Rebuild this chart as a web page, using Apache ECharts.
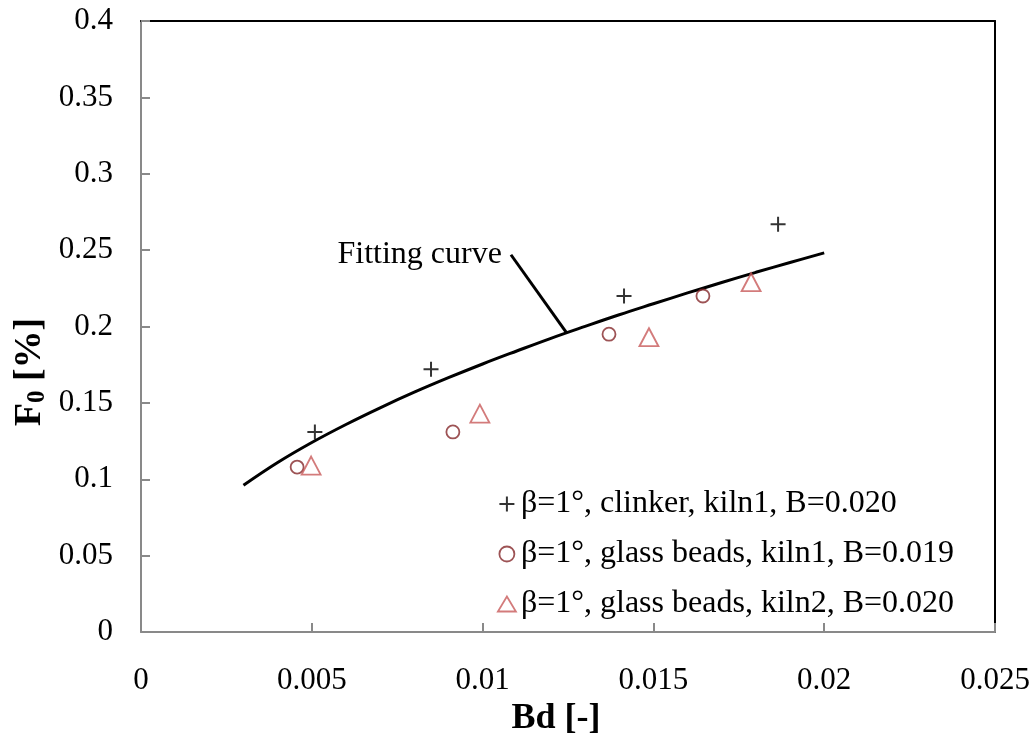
<!DOCTYPE html>
<html>
<head>
<meta charset="utf-8">
<script src="https://cdn.jsdelivr.net/npm/echarts@6/dist/echarts.min.js"></script>
<style>
  html, body { margin: 0; padding: 0; background: #fff; }
  #chart { width: 1036px; height: 742px; }
</style>
</head>
<body>
<div id="chart"></div>
<script>
// Measured points: beta = 1 deg, three material / kiln combinations
const clinkerBd = [0.00509, 0.00849, 0.01414, 0.01865];
const clinkerF0 = [0.131, 0.172, 0.220, 0.267];

const beads1Bd = [0.00457, 0.00913, 0.01370, 0.01645];
const beads1F0 = [0.108, 0.131, 0.195, 0.220];

const beads2Bd = [0.00498, 0.00992, 0.01487, 0.01786];
const beads2F0 = [0.109, 0.143, 0.193, 0.229];

// Fitting curve samples
const curveBd = [0.003, 0.004, 0.005, 0.006, 0.007, 0.008, 0.009, 0.010, 0.011,
                 0.012, 0.013, 0.014, 0.015, 0.016, 0.017, 0.018, 0.019, 0.020];
const curveF0 = [0.0961, 0.1110, 0.1241, 0.1359, 0.1468, 0.1570, 0.1665, 0.1755, 0.1840,
                 0.1923, 0.2001, 0.2077, 0.2149, 0.2220, 0.2288, 0.2355, 0.2419, 0.2482];

// Leader line from the "Fitting curve" annotation to the curve
const leaderBd = [0.01083, 0.01246];
const leaderF0 = [0.247, 0.1958];

const seriesNames = [
  'β=1°, clinker, kiln1, B=0.020',
  'β=1°, glass beads, kiln1, B=0.019',
  'β=1°, glass beads, kiln2, B=0.020'
];

const FONT = '"Liberation Serif", "Times New Roman", serif';
const AXIS_GRAY = '#898989';
const C_CIRCLE = '#84282A';
const C_TRI = '#C85A5A';
const PLUS = 'path://M0,7H14M7,0V14';

const zip = (xs, ys) => xs.map((x, i) => [x, ys[i]]);

const chart = echarts.init(document.getElementById('chart'), null, { renderer: 'canvas' });

chart.setOption({
  backgroundColor: '#fff',
  animation: false,
  grid: { left: 141, right: 41, top: 21, bottom: 104, containLabel: false },
  xAxis: [
    {
      type: 'value', min: 0, max: 0.025, interval: 0.005,
      name: 'Bd [-]', nameLocation: 'middle', nameGap: 62,
      nameTextStyle: { fontFamily: FONT, fontSize: 36, fontWeight: 'bold', color: '#000', padding: [0, 24, 0, 0] },
      axisLine: { show: true, onZero: false, lineStyle: { color: AXIS_GRAY, width: 2 } },
      axisTick: { show: true, inside: true, length: 9, lineStyle: { color: AXIS_GRAY, width: 2 } },
      axisLabel: { fontFamily: FONT, fontSize: 31, color: '#000', margin: 33,
                   formatter: v => String(+v.toFixed(3)) },
      splitLine: { show: false }
    },
    {
      type: 'value', position: 'top', min: 0, max: 0.025,
      axisLine: { show: true, onZero: false, lineStyle: { color: '#000', width: 2 } },
      axisTick: { show: false }, axisLabel: { show: false }, splitLine: { show: false }
    }
  ],
  yAxis: [
    {
      type: 'value', min: 0, max: 0.4, interval: 0.05,
      axisLine: { show: true, onZero: false, lineStyle: { color: AXIS_GRAY, width: 2 } },
      axisTick: { show: true, inside: true, length: 9, lineStyle: { color: AXIS_GRAY, width: 2 } },
      axisLabel: { fontFamily: FONT, fontSize: 31, color: '#000', margin: 28,
                   formatter: v => String(+v.toFixed(2)) },
      splitLine: { show: false }
    },
    {
      type: 'value', position: 'right', min: 0, max: 0.4,
      axisLine: { show: true, onZero: false, lineStyle: { color: '#000', width: 2 } },
      axisTick: { show: false }, axisLabel: { show: false }, splitLine: { show: false }
    }
  ],
  legend: {
    orient: 'vertical', left: 492, top: 481,
    itemWidth: 18, itemHeight: 15, itemGap: 14,
    textStyle: { fontFamily: FONT, fontSize: 32, color: '#000', lineHeight: 36 },
    selectedMode: false,
    data: [
      { name: seriesNames[0], icon: PLUS,
        itemStyle: { color: 'rgba(0,0,0,0)', borderColor: '#000', borderWidth: 2 } },
      { name: seriesNames[1], icon: 'circle',
        itemStyle: { color: 'rgba(0,0,0,0)', borderColor: C_CIRCLE, borderWidth: 1.8 } },
      { name: seriesNames[2], icon: 'triangle',
        itemStyle: { color: 'rgba(0,0,0,0)', borderColor: C_TRI, borderWidth: 1.8 } }
    ]
  },
  graphic: [
    {
      type: 'text', x: 30, y: 372, rotation: Math.PI / 2,
      style: {
        text: '{a|F}{s|0}{a| [%]}',
        align: 'center', verticalAlign: 'middle',
        rich: {
          a: { fontFamily: FONT, fontSize: 38, fontWeight: 'bold', fill: '#000', lineHeight: 40, verticalAlign: 'middle' },
          s: { fontFamily: FONT, fontSize: 25, fontWeight: 'bold', fill: '#000', lineHeight: 25, padding: [15, 0, 0, 0], verticalAlign: 'middle' }
        }
      }
    }
  ],
  series: [
    {
      name: 'Fitting curve', type: 'line', smooth: 0.4, showSymbol: false,
      data: zip(curveBd, curveF0),
      lineStyle: { color: '#000', width: 3 }, z: 3
    },
    {
      name: 'leader', type: 'line', showSymbol: true, symbol: 'circle', symbolSize: 0.1,
      itemStyle: { color: 'rgba(0,0,0,0)' },
      lineStyle: { color: '#000', width: 3 }, z: 3,
      data: [
        { value: [leaderBd[0], leaderF0[0]],
          label: { show: true, position: 'left', distance: 9, formatter: 'Fitting curve',
                   fontFamily: FONT, fontSize: 32, color: '#000' } },
        [leaderBd[1], leaderF0[1]]
      ]
    },
    {
      name: seriesNames[0], type: 'scatter', symbol: PLUS, symbolSize: 15,
      itemStyle: { color: 'rgba(0,0,0,0)', borderColor: '#000', borderWidth: 2 },
      data: zip(clinkerBd, clinkerF0), z: 4
    },
    {
      name: seriesNames[1], type: 'scatter', symbol: 'circle', symbolSize: 13,
      itemStyle: { color: 'rgba(0,0,0,0)', borderColor: C_CIRCLE, borderWidth: 1.8 },
      data: zip(beads1Bd, beads1F0), z: 4
    },
    {
      name: seriesNames[2], type: 'scatter', symbol: 'triangle', symbolSize: [19, 18],
      itemStyle: { color: 'rgba(0,0,0,0)', borderColor: C_TRI, borderWidth: 1.8 },
      data: zip(beads2Bd, beads2F0), z: 4
    }
  ]
});
</script>
</body>
</html>
